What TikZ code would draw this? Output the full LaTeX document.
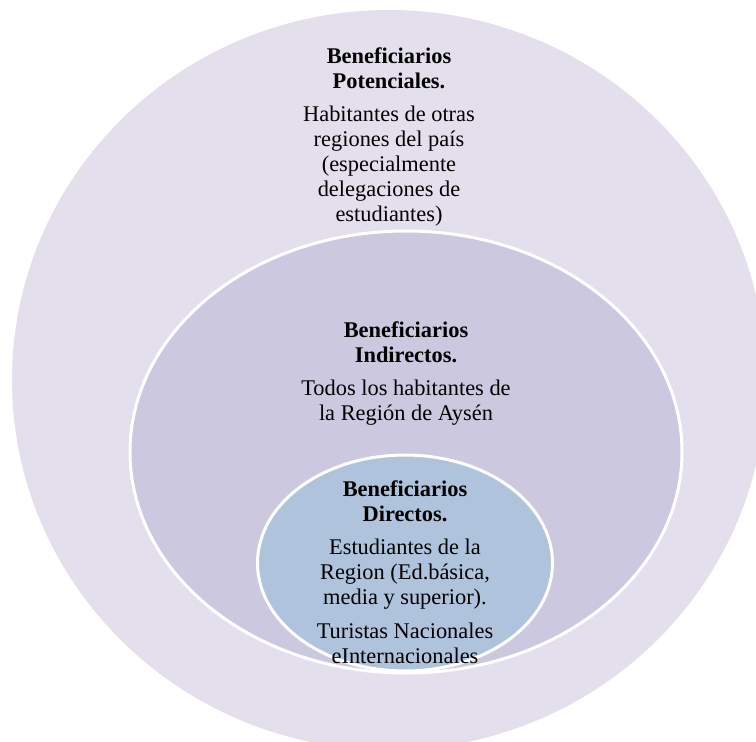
\documentclass[tikz,border=0pt]{standalone}
\usepackage{fontspec}
\setmainfont{Liberation Serif}
\usepackage{tikz}
\usetikzlibrary{shapes.geometric, positioning}

\definecolor{potfill}{HTML}{E4DFEC}
\definecolor{indfill}{HTML}{CBC8E0}
\definecolor{dirfill}{HTML}{B0C3DC}

\begin{document}
\begin{tikzpicture}[
    x=1pt, y=-1pt,
    ring/.style={ellipse, inner sep=0pt},
    edge/.style={draw=white, line width=3pt},
    txt/.style={align=center, inner sep=0pt, font=\fontsize{22.4}{25}\selectfont}
]
\useasboundingbox (0,0) rectangle (756,742);
\clip (0,0) rectangle (756,742);

% rings
\node[ring, fill=potfill, minimum width=754pt, minimum height=740pt] (potenciales) at (389,380) {};
\node[ring, edge, fill=indfill, minimum width=552pt, minimum height=442pt] (indirectos) at (406,452) {};
\node[ring, edge, fill=dirfill, minimum width=295pt, minimum height=216pt] (directos) at (405,563) {};

% texts
\node[txt] (potText) at (389,137) {\textbf{Beneficiarios}\\\textbf{Potenciales.}\\[8pt]
    Habitantes de otras\\regiones del país\\(especialmente\\delegaciones de\\estudiantes)};
\node[txt] (indText) at (406,374) {\textbf{Beneficiarios}\\\textbf{Indirectos.}\\[8pt]
    Todos los habitantes de\\la Región de Aysén};
\node[txt] (dirText) at (405,572) {\textbf{Beneficiarios}\\\textbf{Directos.}\\[8pt]
    Estudiantes de la\\Region (Ed.básica,\\media y superior).\\[9pt]
    Turistas Nacionales\\eInternacionales};

\end{tikzpicture}
\end{document}
